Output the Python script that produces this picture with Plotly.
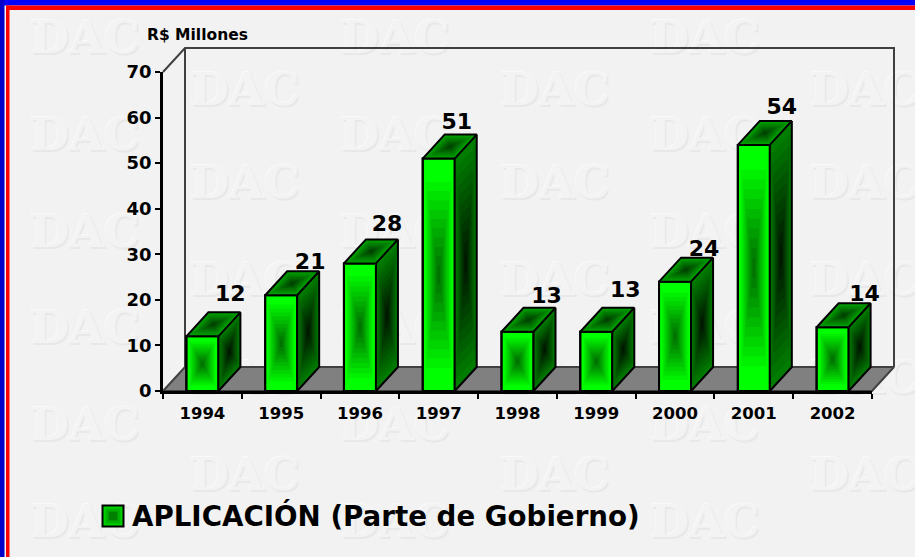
import plotly.graph_objects as go

# ---------- data ----------
YEARS = ["1994", "1995", "1996", "1997", "1998", "1999", "2000", "2001", "2002"]
VALUES = [12, 21, 28, 51, 13, 13, 24, 54, 14]
Y_TICKS = [0, 10, 20, 30, 40, 50, 60, 70]
SERIES_NAME = "APLICACIÓN (Parte de Gobierno)"
UNIT_LABEL = "R$ Millones"
WATERMARK = "DAC"

# ---------- geometry (pixels on the 915x557 page) ----------
W, H = 915, 557
PX_LEFT, PX_RIGHT = 163.0, 872.0
PX_BASE, PX_TOP = 391.0, 72.0
YMAX = 70
UX = (PX_RIGHT - PX_LEFT) / len(YEARS)      # pixels per category
UY = (PX_BASE - PX_TOP) / YMAX              # pixels per value unit
DEPTH_X = 22 / UX                           # 3D depth in data units
DEPTH_Y = 24 / UY
HALF_BAR = 16 / UX
LEVELS = 12
FONT = "DejaVu Sans"
# label nudges in pixels (dx, dy) relative to the default spot above each bar
NUDGE = [(0, -5), (1, 4), (-1, -2), (-10, 1), (1, 2), (1, -4), (1, 5), (0, 0), (4, 4)]

fig = go.Figure()

# helper axis ranges: same data units as the chart, spread over the whole page
wide_x = [-0.5 - PX_LEFT / UX, -0.5 + (W - PX_LEFT) / UX]
wide_y = [-(H - PX_BASE) / UY, PX_BASE / UY]


def mix(a, b, t):
    return "rgb(%d,%d,%d)" % tuple(round(p + (q - p) * t) for p, q in zip(a, b))


def wide(x, y, **kw):
    return go.Scatter(x=x, y=y, xaxis="x4", yaxis="y4", hoverinfo="skip", showlegend=False, **kw)


# ---------- layer 1: watermark in page pixels ----------
wm_rows = [42, 94, 139, 187, 236, 284, 332, 382, 429, 479, 526]
wm_x, wm_y = [], []
for i, ry in enumerate(wm_rows):
    for cx in ([85, 395, 705] if i % 2 == 0 else [245, 555, 865]):
        wm_x.append(cx)
        wm_y.append(ry)
fig.add_trace(go.Scatter(
    x=wm_x, y=wm_y, mode="text",
    text=[WATERMARK] * len(wm_x), textposition="middle center",
    textfont=dict(family="DejaVu Serif", size=45, color="#f3f3f3", weight="bold",
                  shadow="1.5px 1.5px 0 #e8e8e8, -1px -1px 0 #f9f9f9"),
    xaxis="x", yaxis="y", hoverinfo="skip", showlegend=False))

# legend swatch and text in page pixels
for size, col in ((21, "#00d000"), (15, "#00b000"), (9, "#008000")):
    fig.add_trace(go.Scatter(
        x=[113], y=[516], mode="markers", xaxis="x", yaxis="y", hoverinfo="skip", showlegend=False,
        marker=dict(symbol="square", size=size, color=col,
                    line=dict(width=2 if size == 21 else 0, color="#000000"))))
fig.add_trace(go.Scatter(
    x=[132], y=[519], mode="text", text=[SERIES_NAME], textposition="middle right",
    textfont=dict(family=FONT, size=27.7, color="#000000", weight="bold"),
    xaxis="x", yaxis="y", hoverinfo="skip", showlegend=False))
fig.add_trace(go.Scatter(
    x=[147], y=[36], mode="text", text=[UNIT_LABEL], textposition="middle right",
    textfont=dict(family=FONT, size=15.5, color="#000000", weight="bold"),
    xaxis="x", yaxis="y", hoverinfo="skip", showlegend=False))

# ---------- layer 2: back wall and floor, in chart units ----------
x_l, x_r = -0.5, len(YEARS) - 0.5


def under(x, y, **kw):
    return go.Scatter(x=x, y=y, xaxis="x2", yaxis="y2", hoverinfo="skip", showlegend=False, **kw)


fig.add_trace(under(
    [x_l, x_l + DEPTH_X, x_r + DEPTH_X, x_r, x_l],
    [0, DEPTH_Y, DEPTH_Y, 0, 0],
    mode="lines", fill="toself", fillcolor="#808080", line=dict(color="#404040", width=2)))
fig.add_trace(under(
    [x_l, x_l + DEPTH_X, x_r + DEPTH_X, x_r + DEPTH_X, None, x_l + DEPTH_X, x_l + DEPTH_X],
    [YMAX, YMAX + DEPTH_Y, YMAX + DEPTH_Y, DEPTH_Y, None, YMAX + DEPTH_Y, DEPTH_Y],
    mode="lines", line=dict(color="#404040", width=2)))

# ---------- layer 3: the real bars and axes ----------
fig.add_trace(go.Bar(
    x=YEARS, y=VALUES, name=SERIES_NAME, xaxis="x3", yaxis="y3", showlegend=False,
    marker=dict(color="#00ff00", line=dict(color="#000000", width=2)),
    hovertemplate="%{x}: %{y}<extra></extra>"))


# ---------- layer 4: concentric shading and 3D faces ----------
def face(o, u, v, t):
    """Parallelogram at o spanned by u, v, shrunk toward its centre by t."""
    s = t / 2
    a = (o[0] + u[0] * s + v[0] * s, o[1] + u[1] * s + v[1] * s)
    ux, uy = u[0] * (1 - t), u[1] * (1 - t)
    vx, vy = v[0] * (1 - t), v[1] * (1 - t)
    return [a[0], a[0] + ux, a[0] + ux + vx, a[0] + vx, a[0], None], \
           [a[1], a[1] + uy, a[1] + uy + vy, a[1] + vy, a[1], None]


def faces(kind, i, val):
    left, right = i - HALF_BAR, i + HALF_BAR
    if kind == "front":
        return (left, 0), (right - left, 0), (0, val)
    if kind == "side":
        return (right, 0), (DEPTH_X, DEPTH_Y), (0, val)
    return (left, val), (right - left, 0), (DEPTH_X, DEPTH_Y)


RAMPS = {
    "side": ((0, 125, 0), (0, 14, 0)),
    "top": ((0, 165, 0), (0, 55, 0)),
    "front": ((0, 255, 0), (0, 100, 0)),
}
for kind, (edge, core) in RAMPS.items():
    for lev in range(0 if kind != "front" else 1, LEVELS):
        t = lev / (LEVELS - 1)
        px, py = [], []
        for i, val in enumerate(VALUES):
            o, u, v = faces(kind, i, val)
            # the front face keeps a bright rim, as in the gradient it copies
            shrink = t if kind != "front" else 0.12 + 0.88 * t
            a, b = face(o, u, v, shrink)
            px += a
            py += b
        fig.add_trace(wide(px, py, mode="lines", fill="toself", line=dict(width=0),
                           fillcolor=mix(edge, core, t)))

# outlines of the visible 3D edges
ox, oy = [], []
for i, val in enumerate(VALUES):
    l, r = i - HALF_BAR, i + HALF_BAR
    ox += [l, r, r, l, l, None, l, l + DEPTH_X, r + DEPTH_X, r, None,
           r + DEPTH_X, r + DEPTH_X, r, None]
    oy += [0, 0, val, val, 0, None, val, val + DEPTH_Y, val + DEPTH_Y, val, None,
           val + DEPTH_Y, DEPTH_Y, 0, None]
fig.add_trace(wide(ox, oy, mode="lines", line=dict(color="#000000", width=2)))

# value labels
lx, ly = [], []
for i, val in enumerate(VALUES):
    lx.append(i + (28 + NUDGE[i][0]) / UX)
    ly.append(val + (36 - NUDGE[i][1]) / UY)
fig.add_trace(wide(lx, ly, mode="text", text=[str(v) for v in VALUES], textposition="middle center",
                   textfont=dict(family=FONT, size=22, color="#000000", weight="bold")))

hidden = dict(visible=False, fixedrange=True, automargin=False)
chart_x = [PX_LEFT / W, PX_RIGHT / W]
chart_y = [(H - PX_BASE) / H, (H - PX_TOP) / H]
fig.update_layout(
    width=W, height=H, autosize=False, margin=dict(l=0, r=0, t=0, b=0, autoexpand=False),
    paper_bgcolor="#f2f2f2", plot_bgcolor="rgba(0,0,0,0)", showlegend=False,
    bargap=0.593,
    xaxis=dict(hidden, domain=[0, 1], range=[0, W]),
    yaxis=dict(hidden, domain=[0, 1], range=[H, 0]),
    xaxis2=dict(hidden, domain=[0, 1], range=wide_x, anchor="y2"),
    yaxis2=dict(hidden, domain=[0, 1], range=wide_y, anchor="x2"),
    xaxis3=dict(domain=chart_x, anchor="y3", type="category", categoryorder="array",
                categoryarray=YEARS, range=[-0.5, len(YEARS) - 0.5], tickson="boundaries",
                ticks="outside", ticklen=5, tickwidth=1.5, tickcolor="#000000", showgrid=False,
                showline=True, linecolor="#000000", linewidth=2.5, zeroline=False,
                ticklabelstandoff=5,
                tickfont=dict(family=FONT, size=16.5, color="#000000", weight="bold"),
                fixedrange=True, automargin=False),
    yaxis3=dict(domain=chart_y, anchor="x3", range=[0, YMAX], tickvals=Y_TICKS,
                ticks="outside", ticklen=5, tickwidth=2, tickcolor="#000000", showgrid=False,
                showline=True, linecolor="#000000", linewidth=2.5, zeroline=False,
                tickfont=dict(family=FONT, size=18, color="#000000", weight="bold"),
                fixedrange=True, automargin=False),
    xaxis4=dict(hidden, domain=[0, 1], range=wide_x, anchor="y4"),
    yaxis4=dict(hidden, domain=[0, 1], range=wide_y, anchor="x4"),
    shapes=[
        dict(type="rect", xref="paper", yref="paper", x0=0, x1=1, y0=1 - 5.5 / H, y1=1,
             fillcolor="#0000ff", line_width=0, layer="below"),
        dict(type="rect", xref="paper", yref="paper", x0=0, x1=4.5 / W, y0=0, y1=1,
             fillcolor="#0000c8", line_width=0, layer="below"),
        dict(type="rect", xref="paper", yref="paper", x0=6 / W, x1=1, y0=1 - 10 / H, y1=1 - 5.5 / H,
             fillcolor="#ff0000", line_width=0, layer="below"),
        dict(type="rect", xref="paper", yref="paper", x0=6 / W, x1=9.5 / W, y0=0, y1=1 - 5.5 / H,
             fillcolor="#ff0000", line_width=0, layer="below"),
    ],
)

fig.write_html("out.html", config={"displayModeBar": False},
               post_script="document.body.style.margin='0';document.body.style.overflow='hidden';")
